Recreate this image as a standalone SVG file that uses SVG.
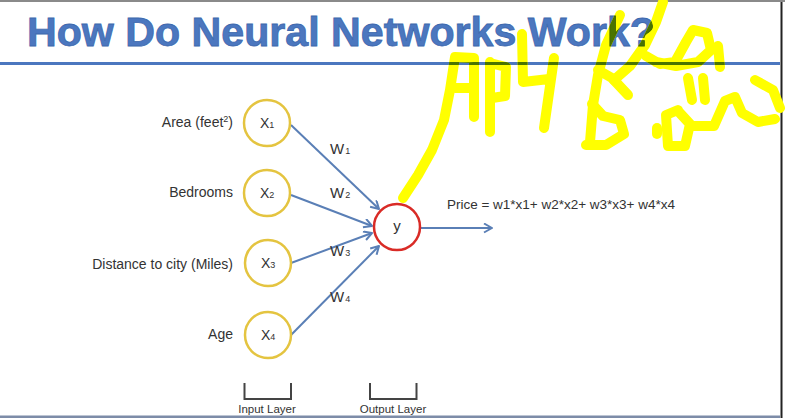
<svg xmlns="http://www.w3.org/2000/svg" width="785" height="418" viewBox="0 0 785 418">
  <style>
    .title { font-family: "Liberation Sans", Arial, sans-serif; font-weight: bold; font-size: 40px; stroke-width: 0.8px; }
    .lbl { font-family: "Liberation Sans", Arial, sans-serif; font-size: 14px; fill: #333; }
    .w { font-size: 15px; }
    .small { font-family: "Liberation Sans", Arial, sans-serif; font-size: 11.5px; fill: #333; }
    .sub { font-size: 9px; }
    .in { fill: #fff; stroke: #e4c440; stroke-width: 2.5; }
    .out { fill: #fff; stroke: #d92b26; stroke-width: 2.5; }
    .edge { stroke: #5a7fb6; stroke-width: 2; fill: none; marker-end: url(#arrow); }
    .bracket { stroke: #444; stroke-width: 2; fill: none; }
  </style>
  <defs>
    <marker id="arrow" markerUnits="userSpaceOnUse" markerWidth="12" markerHeight="12" refX="9" refY="5" orient="auto">
      <path d="M1,0.5 L9,5 L1,9.5" fill="none" stroke="#5a7fb6" stroke-width="2" stroke-linejoin="round"/>
    </marker>
    <!-- highlighter strokes, reused for the yellow layer and for the mask; stroke colour comes from the <use> -->
    <g id="strokes" fill="none" stroke-width="10" stroke-linecap="round" stroke-linejoin="round">
      <path d="M403,198 L418,175 L432,150 L444,120 L450,90 L455,57 L474,58 L474,117"/>
      <path d="M455,88 L473,88"/>
      <path d="M490,62 L490,132 M490,63 L506,67 L505,96 L492,98"/>
      <path d="M522,34 L523,82 L549,79 M554,58 L544,128"/>
      <path d="M663,2 L656,22 L645,45 L630,66 L614,80"/>
      <path d="M620,15 L606,45 L598,75 L593,105 L590,142"/>
      <path d="M598,70 L612,78 L628,95"/>
      <path d="M592,104 L603,116 L620,120 L624,134 L606,145 L586,145"/>
      <path d="M646,56 L660,64 L675,62 L686,42 L693,30 L707,33 L711,50 L698,62 L676,66 L656,62"/>
      <path d="M718,46 L720,67"/>
      <path d="M688,78 L692,100 M703,78 L705,100"/>
      <path d="M678,110 L666,115 L668,146 L685,146 L690,124 L678,111"/>
      <path d="M690,126 L714,126 L725,101 L735,97 L742,113 L758,122 L775,119"/>
      <path d="M755,80 L773,90 L780,108"/>
      <path d="M657,128 L657,134"/>
    </g>
    <mask id="inkMask" maskUnits="userSpaceOnUse" x="0" y="0" width="785" height="418">
      <use href="#strokes" stroke="#fff"/>
    </mask>
    <g id="headingShapes">
      <text class="title" x="27" y="46" textLength="628" lengthAdjust="spacingAndGlyphs">How Do Neural Networks Work?</text>
      <rect x="0" y="62" width="780" height="3" stroke="none"/>
    </g>
  </defs>

  <!-- page frame -->
  <rect x="0" y="0" width="785" height="418" fill="#ffffff"/>
  <rect x="0" y="0" width="785" height="2" fill="#8a8a8a"/>
  <rect x="780.5" y="2" width="2" height="416" fill="#222"/>
  <rect x="0" y="415.5" width="780" height="2.5" fill="#7d8ca8"/>

  <!-- heading -->
  <g id="heading" fill="#4b77bf" stroke="#3d68ad">
    <use href="#headingShapes"/>
  </g>

  <!-- connectors -->
  <g id="connectors">
    <line class="edge" x1="291" y1="125" x2="379" y2="209"/>
    <line class="edge" x1="291" y1="195" x2="372" y2="226"/>
    <line class="edge" x1="291" y1="263" x2="372" y2="233"/>
    <line class="edge" x1="291" y1="335" x2="379" y2="246"/>
    <line class="edge" x1="421" y1="228" x2="492" y2="228"/>
    <text class="lbl w" x="330" y="154">W<tspan class="sub" dx="1">1</tspan></text>
    <text class="lbl w" x="330" y="198">W<tspan class="sub" dx="1">2</tspan></text>
    <text class="lbl w" x="330" y="256">W<tspan class="sub" dx="1">3</tspan></text>
    <text class="lbl w" x="330" y="302">W<tspan class="sub" dx="1">4</tspan></text>
  </g>

  <!-- input nodes -->
  <g id="x1">
    <circle class="in" cx="267" cy="123" r="23"/>
    <text class="lbl" x="260" y="128">X<tspan class="sub">1</tspan></text>
    <text class="lbl" x="233" y="127" text-anchor="end">Area (feet<tspan class="sub" dy="-5">2</tspan><tspan dy="5">)</tspan></text>
  </g>
  <g id="x2">
    <circle class="in" cx="267" cy="193" r="23"/>
    <text class="lbl" x="260" y="198">X<tspan class="sub">2</tspan></text>
    <text class="lbl" x="233" y="197" text-anchor="end">Bedrooms</text>
  </g>
  <g id="x3">
    <circle class="in" cx="268" cy="263" r="23"/>
    <text class="lbl" x="261" y="268">X<tspan class="sub">3</tspan></text>
    <text class="lbl" x="233" y="269" text-anchor="end">Distance to city (Miles)</text>
  </g>
  <g id="x4">
    <circle class="in" cx="268" cy="335" r="23"/>
    <text class="lbl" x="261" y="340">X<tspan class="sub">4</tspan></text>
    <text class="lbl" x="233" y="339" text-anchor="end">Age</text>
  </g>

  <!-- output node -->
  <g id="y">
    <circle class="out" cx="397" cy="227" r="23"/>
    <text class="lbl" x="397" y="231" text-anchor="middle" style="font-size:15px">y</text>
  </g>
  <g id="formula">
    <text class="lbl" x="447" y="209" textLength="228" lengthAdjust="spacingAndGlyphs" style="font-size:13px">Price = w1*x1+ w2*x2+ w3*x3+ w4*x4</text>
  </g>

  <!-- layer brackets -->
  <g id="input-layer">
    <path class="bracket" d="M244.5,383 V399 H291 V383"/>
    <text class="small" x="267" y="413" text-anchor="middle">Input Layer</text>
  </g>
  <g id="output-layer">
    <path class="bracket" d="M370,383 V399 H416.5 V383"/>
    <text class="small" x="393" y="413" text-anchor="middle">Output Layer</text>
  </g>

  <!-- yellow highlighter handwriting -->
  <g id="handwriting">
    <use href="#strokes" stroke="#ffff00"/>
  </g>
  <!-- where the highlighter crosses the blue heading it darkens to green -->
  <g id="handwriting-over-heading" mask="url(#inkMask)" fill="#4a7400" stroke="#3f6500">
    <use href="#headingShapes"/>
  </g>
</svg>
